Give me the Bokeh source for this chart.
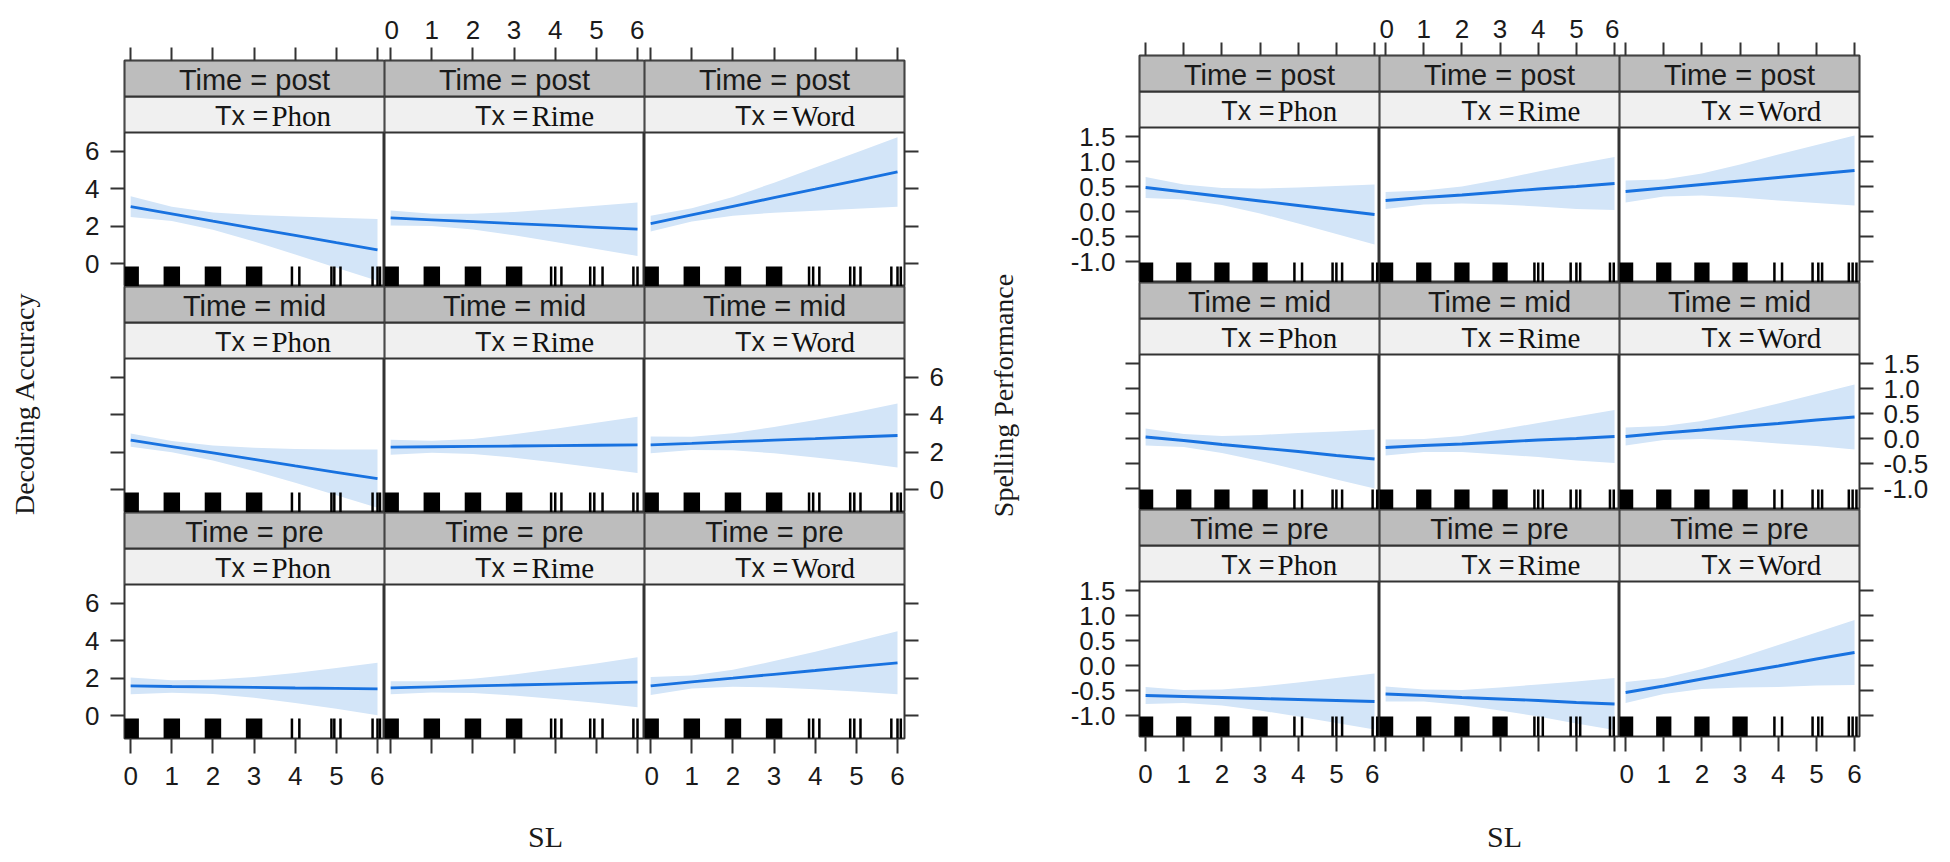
import math
from bokeh.plotting import figure
from bokeh.layouts import row, column, Spacer
from bokeh.models import Range1d, FixedTicker, LinearAxis, PrintfTickFormatter, CustomJSTickFormatter
from bokeh.core.properties import value
from bokeh.embed import file_html
from bokeh.resources import INLINE

# ---------------- data ----------------
sl = [0, 1, 2, 3, 4, 5, 6]
times = ["post", "mid", "pre"]
treatments = ["Phon", "Rime", "Word"]
sl_ticks = [0, 1, 2, 3, 4, 5, 6]
dec_ticks = [0, 2, 4, 6]
spell_ticks = [-1.0, -0.5, 0.0, 0.5, 1.0, 1.5]
dec_title = "Decoding Accuracy"
spell_title = "Spelling Performance"
x_title = "SL"

# Decoding accuracy: fitted effect and 95% band
dec_post_phon = [3.05, 2.67, 2.28, 1.90, 1.52, 1.13, 0.75]
dec_post_phon_lo = [2.50, 2.29, 1.82, 1.19, 0.51, -0.20, -0.90]
dec_post_phon_hi = [3.60, 3.05, 2.74, 2.61, 2.53, 2.46, 2.40]
dec_post_rime = [2.45, 2.35, 2.25, 2.15, 2.05, 1.95, 1.85]
dec_post_rime_lo = [2.05, 2.02, 1.83, 1.53, 1.17, 0.80, 0.43]
dec_post_rime_hi = [2.85, 2.68, 2.67, 2.77, 2.93, 3.10, 3.27]
dec_post_word = [2.15, 2.61, 3.07, 3.53, 3.98, 4.44, 4.90]
dec_post_word_lo = [1.73, 2.26, 2.57, 2.73, 2.83, 2.94, 3.05]
dec_post_word_hi = [2.57, 2.96, 3.57, 4.33, 5.13, 5.94, 6.75]
dec_mid_phon = [2.65, 2.31, 1.97, 1.63, 1.28, 0.94, 0.60]
dec_mid_phon_lo = [2.30, 2.01, 1.57, 1.01, 0.38, -0.28, -0.95]
dec_mid_phon_hi = [3.00, 2.61, 2.37, 2.25, 2.18, 2.16, 2.15]
dec_mid_rime = [2.28, 2.30, 2.32, 2.34, 2.36, 2.38, 2.40]
dec_mid_rime_lo = [1.88, 1.98, 1.92, 1.72, 1.46, 1.18, 0.90]
dec_mid_rime_hi = [2.68, 2.62, 2.72, 2.96, 3.26, 3.58, 3.90]
dec_mid_word = [2.40, 2.48, 2.57, 2.65, 2.73, 2.82, 2.90]
dec_mid_word_lo = [1.95, 2.13, 2.12, 1.95, 1.73, 1.49, 1.20]
dec_mid_word_hi = [2.85, 2.83, 3.02, 3.35, 3.73, 4.15, 4.60]
dec_pre_phon = [1.60, 1.57, 1.55, 1.52, 1.49, 1.47, 1.44]
dec_pre_phon_lo = [1.15, 1.24, 1.17, 0.97, 0.69, 0.39, 0.04]
dec_pre_phon_hi = [2.05, 1.90, 1.93, 2.07, 2.29, 2.55, 2.84]
dec_pre_rime = [1.50, 1.55, 1.60, 1.65, 1.70, 1.75, 1.80]
dec_pre_rime_lo = [1.15, 1.25, 1.22, 1.09, 0.90, 0.70, 0.47]
dec_pre_rime_hi = [1.85, 1.85, 1.98, 2.21, 2.50, 2.80, 3.13]
dec_pre_word = [1.60, 1.81, 2.01, 2.22, 2.42, 2.63, 2.83]
dec_pre_word_lo = [1.12, 1.46, 1.56, 1.52, 1.42, 1.30, 1.15]
dec_pre_word_hi = [2.08, 2.16, 2.46, 2.92, 3.42, 3.96, 4.51]

# Spelling performance: fitted effect and 95% band
sp_post_phon = [0.48, 0.39, 0.30, 0.21, 0.12, 0.03, -0.06]
sp_post_phon_lo = [0.27, 0.24, 0.13, -0.04, -0.24, -0.45, -0.66]
sp_post_phon_hi = [0.69, 0.54, 0.47, 0.46, 0.48, 0.51, 0.54]
sp_post_rime = [0.22, 0.28, 0.33, 0.39, 0.45, 0.50, 0.56]
sp_post_rime_lo = [0.05, 0.14, 0.16, 0.14, 0.10, 0.05, 0.03]
sp_post_rime_hi = [0.39, 0.42, 0.50, 0.64, 0.80, 0.95, 1.09]
sp_post_word = [0.40, 0.47, 0.54, 0.61, 0.68, 0.75, 0.82]
sp_post_word_lo = [0.18, 0.30, 0.32, 0.28, 0.22, 0.17, 0.12]
sp_post_word_hi = [0.62, 0.64, 0.76, 0.94, 1.14, 1.33, 1.52]
sp_mid_phon = [0.03, -0.04, -0.12, -0.19, -0.26, -0.34, -0.41]
sp_mid_phon_lo = [-0.14, -0.17, -0.29, -0.45, -0.63, -0.82, -1.00]
sp_mid_phon_hi = [0.20, 0.09, 0.05, 0.07, 0.11, 0.14, 0.18]
sp_mid_rime = [-0.18, -0.14, -0.11, -0.07, -0.03, 0.00, 0.04]
sp_mid_rime_lo = [-0.34, -0.27, -0.27, -0.32, -0.37, -0.44, -0.49]
sp_mid_rime_hi = [-0.02, -0.01, 0.05, 0.18, 0.31, 0.44, 0.57]
sp_mid_word = [0.04, 0.11, 0.17, 0.24, 0.30, 0.37, 0.43]
sp_mid_word_lo = [-0.14, -0.03, -0.01, -0.04, -0.10, -0.15, -0.22]
sp_mid_word_hi = [0.22, 0.25, 0.35, 0.52, 0.70, 0.89, 1.08]
sp_pre_phon = [-0.60, -0.62, -0.64, -0.66, -0.68, -0.70, -0.72]
sp_pre_phon_lo = [-0.77, -0.75, -0.80, -0.90, -1.02, -1.15, -1.28]
sp_pre_phon_hi = [-0.43, -0.49, -0.48, -0.42, -0.34, -0.25, -0.16]
sp_pre_rime = [-0.57, -0.60, -0.64, -0.67, -0.70, -0.74, -0.77]
sp_pre_rime_lo = [-0.72, -0.72, -0.79, -0.90, -1.02, -1.16, -1.29]
sp_pre_rime_hi = [-0.42, -0.48, -0.49, -0.44, -0.38, -0.32, -0.25]
sp_pre_word = [-0.54, -0.41, -0.27, -0.14, -0.01, 0.13, 0.26]
sp_pre_word_lo = [-0.75, -0.57, -0.47, -0.44, -0.43, -0.40, -0.39]
sp_pre_word_hi = [-0.33, -0.25, -0.07, 0.16, 0.41, 0.66, 0.91]

# rug: SL values with many cases (marks merge into blocks) and sparse SL values
rug_dense = [0, 1, 2, 3]
dec_rug_phon = [3.92, 4.10, 4.88, 4.95, 5.10, 5.88, 6.00, 6.06]
dec_rug_rime = [3.90, 4.00, 4.15, 4.85, 4.95, 5.15, 5.90, 6.00]
dec_rug_word = [3.85, 3.95, 4.10, 4.85, 4.95, 5.10, 5.85, 6.00, 6.08]
sp_rug_phon = [3.90, 4.10, 4.90, 5.00, 5.15, 5.95, 6.07]
sp_rug_rime = [3.90, 4.00, 4.12, 4.85, 5.00, 5.10, 5.88, 5.98]
sp_rug_word = [3.90, 4.10, 4.90, 5.05, 5.15, 5.85, 5.95, 6.05]

# ---------------- style ----------------
SANS = "Liberation Sans"
SERIF = "Liberation Serif"
FRAME = "#333333"
TEXT = "#1a1a1a"
STRIP_DARK = "#bdbdbd"
STRIP_LIGHT = "#f0f0f0"
LINE = "#1872e0"
BAND = "#d3e5f8"
TICK_SIZE = "26px"
STRIP_H = 36
RUG_H = 20
TOTAL_H = 846
PAGE_MARGIN = 8

dec_panels = {
    ("post", "Phon"): (dec_post_phon, dec_post_phon_lo, dec_post_phon_hi),
    ("post", "Rime"): (dec_post_rime, dec_post_rime_lo, dec_post_rime_hi),
    ("post", "Word"): (dec_post_word, dec_post_word_lo, dec_post_word_hi),
    ("mid", "Phon"): (dec_mid_phon, dec_mid_phon_lo, dec_mid_phon_hi),
    ("mid", "Rime"): (dec_mid_rime, dec_mid_rime_lo, dec_mid_rime_hi),
    ("mid", "Word"): (dec_mid_word, dec_mid_word_lo, dec_mid_word_hi),
    ("pre", "Phon"): (dec_pre_phon, dec_pre_phon_lo, dec_pre_phon_hi),
    ("pre", "Rime"): (dec_pre_rime, dec_pre_rime_lo, dec_pre_rime_hi),
    ("pre", "Word"): (dec_pre_word, dec_pre_word_lo, dec_pre_word_hi),
}
sp_panels = {
    ("post", "Phon"): (sp_post_phon, sp_post_phon_lo, sp_post_phon_hi),
    ("post", "Rime"): (sp_post_rime, sp_post_rime_lo, sp_post_rime_hi),
    ("post", "Word"): (sp_post_word, sp_post_word_lo, sp_post_word_hi),
    ("mid", "Phon"): (sp_mid_phon, sp_mid_phon_lo, sp_mid_phon_hi),
    ("mid", "Rime"): (sp_mid_rime, sp_mid_rime_lo, sp_mid_rime_hi),
    ("mid", "Word"): (sp_mid_word, sp_mid_word_lo, sp_mid_word_hi),
    ("pre", "Phon"): (sp_pre_phon, sp_pre_phon_lo, sp_pre_phon_hi),
    ("pre", "Rime"): (sp_pre_rime, sp_pre_rime_lo, sp_pre_rime_hi),
    ("pre", "Word"): (sp_pre_word, sp_pre_word_lo, sp_pre_word_hi),
}

LEFT = dict(panels=dec_panels, rugs=[dec_rug_phon, dec_rug_rime, dec_rug_word],
            fw=260, ph=154, bl=70, br=60, bt=52, bb=62, xr=(-0.15, 6.17), yr=(-1.2, 7.0),
            yticks=dec_ticks, fmt=None, top_standoff=9, tx_frac=0.565, side_standoff=11)
RIGHT = dict(panels=sp_panels, rugs=[sp_rug_phon, sp_rug_rime, sp_rug_word],
             fw=240, ph=155, bl=80, br=82, bt=47, bb=64, xr=(-0.16, 6.13), yr=(-1.42, 1.68),
             yticks=spell_ticks, fmt="%.1f", top_standoff=5, tx_frac=0.575, side_standoff=10)


def make_axis(ticks, standoff, show, fmt=None, tick_out=14):
    ax = LinearAxis(ticker=FixedTicker(ticks=ticks, minor_ticks=[]))
    ax.axis_line_color = None
    ax.major_tick_in = 0
    ax.major_tick_out = tick_out
    ax.minor_tick_in = 0
    ax.minor_tick_out = 0
    ax.major_tick_line_color = FRAME
    ax.major_tick_line_width = 2
    ax.major_label_standoff = standoff
    ax.major_label_text_font = SANS
    ax.major_label_text_font_size = TICK_SIZE
    ax.major_label_text_color = TEXT
    if not show:
        ax.formatter = CustomJSTickFormatter(code="return ''")
    elif fmt is not None:
        ax.formatter = PrintfTickFormatter(format=fmt)
    return ax


def build_grid(ch):
    ph = ch["ph"]
    fh = ph + 2 * STRIP_H                     # frame: plot area + two strips
    y0, y1 = ch["yr"]
    ytop = y0 + (y1 - y0) * fh / ph           # data range extended over strips
    xr = Range1d(*ch["xr"])
    yr = Range1d(y0, ytop)
    rows = []
    for i, t in enumerate(times):
        figs = []
        for j, tx in enumerate(treatments):
            p = figure(frame_width=ch["fw"], frame_height=fh, x_range=xr, y_range=yr,
                       x_axis_type=None, y_axis_type=None, output_backend="svg",
                       toolbar_location=None, min_border=0,
                       min_border_left=ch["bl"] if j == 0 else 0,
                       min_border_right=ch["br"] if j == 2 else 0,
                       min_border_top=ch["bt"] if i == 0 else 0,
                       min_border_bottom=ch["bb"] if i == 2 else 0)
            p.outline_line_color = FRAME
            p.outline_line_width = 2
            p.background_fill_color = "white"
            p.border_fill_color = "white"
            # pixel-like helper ranges for strips and rug
            p.extra_x_ranges = {"fx": Range1d(0, 1)}
            p.extra_y_ranges = {"px": Range1d(0, fh)}

            fit, lo, hi = ch["panels"][(t, tx)]
            p.varea(x=sl, y1=lo, y2=hi, fill_color=BAND, fill_alpha=1.0)
            p.line(x=sl, y=fit, line_color=LINE, line_width=2.8)
            p.vbar(x=rug_dense, width=0.4, bottom=0, top=RUG_H, fill_color="black",
                   line_color=None, y_range_name="px")
            sp = ch["rugs"][j]
            p.segment(x0=sp, y0=[0] * len(sp), x1=sp, y1=[RUG_H] * len(sp),
                      line_color="black", line_width=2.5, y_range_name="px")

            # strips
            p.quad(left=[0, 0], right=[1, 1], bottom=[ph, ph + STRIP_H],
                   top=[ph + STRIP_H, fh], fill_color=[STRIP_LIGHT, STRIP_DARK],
                   line_color=FRAME, line_width=2, x_range_name="fx", y_range_name="px")
            p.text(x=[0.5], y=[ph + 1.47 * STRIP_H], text=["Time = " + t],
                   text_font=value(SANS), text_font_size="29px", text_align="center",
                   text_baseline="middle", text_color=TEXT,
                   x_range_name="fx", y_range_name="px")
            p.text(x=[ch["tx_frac"] - 0.012], y=[ph + 0.45 * STRIP_H], text=["Tx ="],
                   text_font=value(SANS), text_font_size="27px", text_align="right",
                   text_baseline="middle", text_color=TEXT,
                   x_range_name="fx", y_range_name="px")
            p.text(x=[ch["tx_frac"]], y=[ph + 0.45 * STRIP_H], text=[tx],
                   text_font=value(SERIF), text_font_size="29px", text_align="left",
                   text_baseline="middle", text_color="#111111",
                   x_range_name="fx", y_range_name="px")

            if i == 0:
                p.add_layout(make_axis(sl_ticks, ch["top_standoff"], j == 1, tick_out=13), "above")
            if j == 0:
                p.add_layout(make_axis(ch["yticks"], ch["side_standoff"], i != 1, ch["fmt"]), "left")
            if j == 2:
                p.add_layout(make_axis(ch["yticks"], ch["side_standoff"], i == 1, ch["fmt"]), "right")
            if i == 2:
                p.add_layout(make_axis(sl_ticks, 13, j != 1, tick_out=15), "below")
            figs.append(p)
        rows.append(row(*figs))
    return rows


def text_fig(w, h, txt, xpx, ypx, angle, size):
    p = figure(frame_width=w, frame_height=h, x_range=Range1d(0, w), y_range=Range1d(0, h),
               x_axis_type=None, y_axis_type=None, output_backend="svg",
               toolbar_location=None, min_border=0)
    p.outline_line_color = None
    p.background_fill_color = "white"
    p.border_fill_color = "white"
    p.text(x=[xpx], y=[ypx], text=[txt], angle=angle, text_font=value(SERIF),
           text_font_size=size, text_align="center", text_baseline="middle",
           text_color=TEXT)
    return p


left_w = LEFT["bl"] + 3 * LEFT["fw"] + LEFT["br"]
right_w = RIGHT["bl"] + 3 * RIGHT["fw"] + RIGHT["br"]

left_col = column(*build_grid(LEFT), text_fig(left_w, 54, x_title, 491, 18, 0, "30px"))
right_col = column(*build_grid(RIGHT), text_fig(right_w, 54, x_title, 445, 18, 0, "30px"))

left_title = text_fig(46, TOTAL_H, dec_title, 16, 451, math.pi / 2, "28px")
right_title = text_fig(95, TOTAL_H, spell_title, 39, 459, math.pi / 2, "28px")

page = column(Spacer(height=PAGE_MARGIN),
              row(Spacer(width=PAGE_MARGIN), left_title, left_col, right_title, right_col))

open("out.html", "w").write(file_html(page, INLINE))
